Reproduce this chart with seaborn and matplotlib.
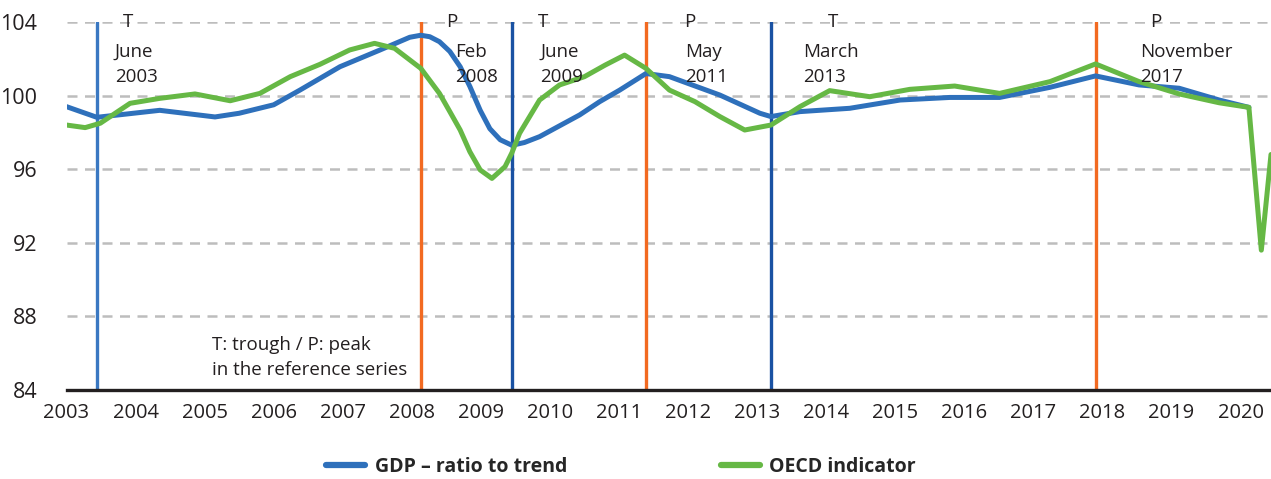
import matplotlib.pyplot as plt
import pandas as pd
import seaborn as sns

# GDP - ratio to trend (fractional years)
gdp_x = [2003.0, 2003.44, 2004.35, 2005.15, 2005.5, 2006.0, 2006.38, 2006.96, 2007.54,
         2007.97, 2008.13, 2008.26, 2008.4, 2008.55, 2008.7, 2008.84, 2008.99, 2009.13,
         2009.28, 2009.45, 2009.63, 2009.85, 2010.43, 2010.72, 2011.01, 2011.39, 2011.73,
         2012.46, 2013.04, 2013.2, 2013.62, 2014.34, 2015.07, 2015.79, 2016.51, 2017.24,
         2017.9, 2018.53, 2019.11, 2019.69, 2020.12]
gdp_y = [99.4, 98.82, 99.2, 98.84, 99.04, 99.5, 100.3, 101.57, 102.48,
         103.17, 103.28, 103.2, 102.93, 102.4, 101.57, 100.5, 99.2, 98.2,
         97.6, 97.3, 97.45, 97.77, 98.95, 99.67, 100.3, 101.2, 101.03,
         100.03, 99.04, 98.86, 99.13, 99.31, 99.76, 99.9, 99.9, 100.45,
         101.07, 100.58, 100.4, 99.76, 99.36]

# OECD indicator
oecd_x = [2003.0, 2003.27, 2003.49, 2003.92, 2004.35, 2004.86, 2005.37, 2005.8, 2006.24,
          2006.67, 2007.1, 2007.46, 2007.75, 2008.13, 2008.4, 2008.55, 2008.7, 2008.84,
          2008.99, 2009.16, 2009.35, 2009.45, 2009.56, 2009.85, 2010.14, 2010.5, 2010.8,
          2011.08, 2011.39, 2011.73, 2012.1, 2012.46, 2012.82, 2013.2, 2013.62, 2014.05,
          2014.63, 2015.21, 2015.86, 2016.51, 2017.24, 2017.9, 2018.53, 2019.11, 2019.69,
          2020.12, 2020.3, 2020.44]
oecd_y = [98.4, 98.26, 98.5, 99.58, 99.85, 100.09, 99.72, 100.12, 101.03,
          101.7, 102.48, 102.84, 102.57, 101.48, 100.12, 99.13, 98.13, 96.95,
          95.96, 95.5, 96.14, 96.9, 97.95, 99.76, 100.58, 101.03, 101.66,
          102.2, 101.48, 100.3, 99.67, 98.86, 98.13, 98.4, 99.4, 100.27,
          99.94, 100.34, 100.52, 100.12, 100.76, 101.72, 100.76, 100.09, 99.61,
          99.36, 91.6, 96.8]

# turning points
tp_dates = [2003.44, 2008.13, 2009.45, 2011.39, 2013.2, 2017.9]
tp_kind = ["T", "P", "T", "P", "T", "P"]
tp_month = ["June", "Feb", "June", "May", "March", "November"]
tp_year = ["2003", "2008", "2009", "2011", "2013", "2017"]
tp_colors = ["#3a78c2", "#f26a21", "#1a52a3", "#f26a21", "#1a52a3", "#f26a21"]
letter_off = [0.45, 0.45, 0.45, 0.64, 0.9, 0.87]
month_off = [0.26, 0.49, 0.41, 0.56, 0.46, 0.64]

years = list(range(2003, 2021))
yticks = [84, 88, 92, 96, 100, 104]

sns.set_style("white")
plt.rcParams['font.family'] = ['Open Sans', 'DejaVu Sans']

df = pd.concat([
    pd.DataFrame({"date": gdp_x, "value": gdp_y, "series": "GDP \u2013 ratio to trend"}),
    pd.DataFrame({"date": oecd_x, "value": oecd_y, "series": "OECD indicator"}),
])

fig = plt.figure(figsize=(12.71, 4.79), dpi=100)
ax = fig.add_axes([66.5 / 1271, 1 - 390 / 479, 1 - 66.5 / 1271, (390 - 22) / 479])

for y in yticks[1:]:
    ax.axhline(y, color="#bdbdbd", lw=1.8, ls=(0, (4, 3)), zorder=0)

for d, c in zip(tp_dates, tp_colors):
    ax.plot([d, d], [84, 104], color=c, lw=2.4, zorder=1)

sns.lineplot(data=df, x="date", y="value", hue="series",
             palette=["#2e70bb", "#66b845"], linewidth=3.6, ax=ax,
             legend=False, zorder=3, sort=False)
for line in ax.lines[-2:]:
    line.set_solid_capstyle("round")
    line.set_solid_joinstyle("round")

for d, k, m, yr, lo, mo in zip(tp_dates, tp_kind, tp_month, tp_year, letter_off, month_off):
    ax.text(d + lo, 104, k, ha="center", va="center", fontsize=13.5, color="#231f20")
    ax.text(d + mo, 102.37, m, ha="left", va="center", fontsize=13.5, color="#231f20")
    ax.text(d + mo, 101.0, yr, ha="left", va="center", fontsize=13.5, color="#231f20")

ax.text(2005.1, 86.45, "T: trough / P: peak", ha="left", va="center", fontsize=13.5, color="#231f20")
ax.text(2005.1, 85.1, "in the reference series", ha="left", va="center", fontsize=13.5, color="#231f20")

ax.set_xlim(2003, 2020.44)
ax.set_ylim(84, 104)
ax.set_xticks(years)
ax.set_xticklabels([str(y) for y in years])
ax.set_yticks(yticks)
ax.set_xlabel("")
ax.set_ylabel("")
for s in ["left", "right", "top"]:
    ax.spines[s].set_visible(False)
ax.spines["bottom"].set_linewidth(2.4)
ax.spines["bottom"].set_color("#231f20")
ax.tick_params(axis="x", length=6, width=2, color="#231f20", labelsize=14.5,
               labelcolor="#231f20", pad=3)
ax.tick_params(axis="y", length=0, labelsize=15.5, labelcolor="#231f20", pad=21)

handles = [plt.Line2D([], [], color="#2e70bb", lw=4.5, solid_capstyle="round"),
           plt.Line2D([], [], color="#66b845", lw=4.5, solid_capstyle="round")]
fig.legend(handles, ["GDP \u2013 ratio to trend", "OECD indicator"], loc="center",
           bbox_to_anchor=(621 / 1271, 1 - 467 / 479), ncol=2, frameon=False,
           prop={"weight": "bold", "size": 14}, handlelength=2.0, columnspacing=7.9,
           handletextpad=0.5)

fig.savefig("out.png", dpi=100)
